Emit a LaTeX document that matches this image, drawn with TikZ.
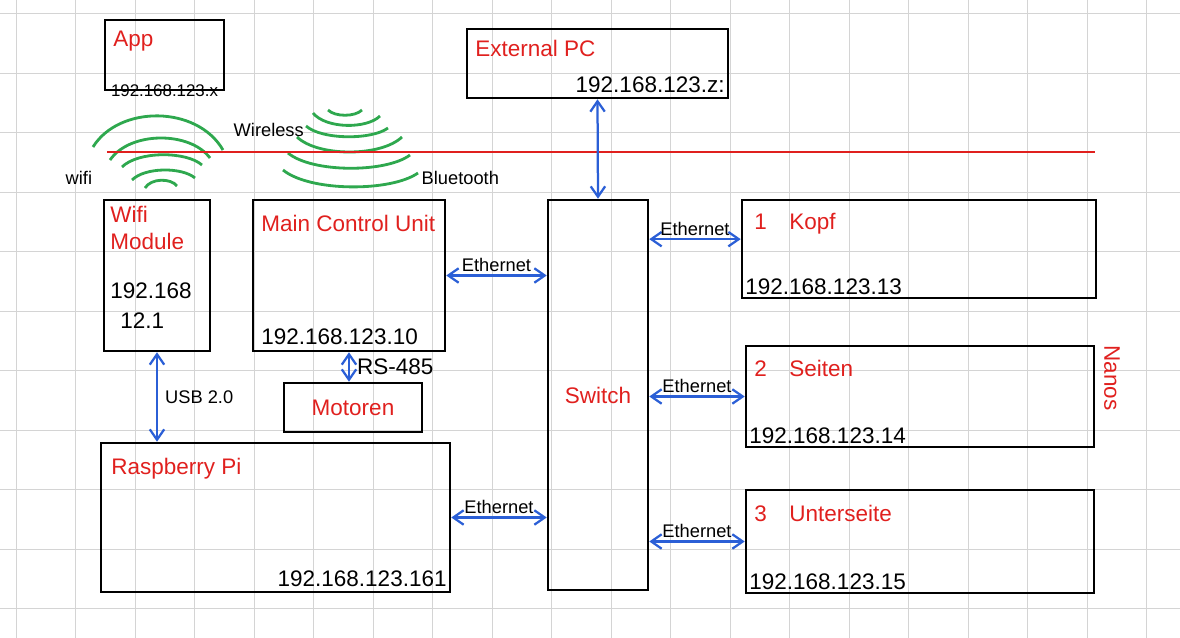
\documentclass[tikz,border=0pt]{standalone}
\usepackage{fontspec}
\setmainfont{Liberation Sans}
\usetikzlibrary{arrows.meta,positioning,fit}
\definecolor{netred}{HTML}{E0201E}
\definecolor{netblue}{HTML}{2B5FD6}
\definecolor{netgreen}{HTML}{2EA84E}
\definecolor{netgrid}{HTML}{D4D4D4}
\tikzset{
  bx/.style={draw=black, line width=1.8pt, inner sep=0pt},
  ttl/.style={text=netred, font=\fontsize{16}{19}\selectfont, inner sep=1pt, align=left},
  ip/.style={text=black, font=\fontsize{16}{19}\selectfont, inner sep=1pt},
  note/.style={text=black, font=\fontsize{13}{15}\selectfont, inner sep=1pt},
  lnk/.style={{Straight Barb[length=2.6mm,width=3.6mm]}-{Straight Barb[length=2.6mm,width=3.6mm]}, line width=1.6pt, color=netblue},
  wave/.style={line width=2pt, color=netgreen},
  air/.style={line width=2pt, color=netred},
  gridln/.style={line width=0.6pt, color=netgrid},
}

\begin{document}
\begin{tikzpicture}[x=0.025cm, y=-0.025cm]
    \useasboundingbox (0,0) rectangle (1180,638);
    % paper grid
    \foreach \i in {0,...,19} { \draw[gridln] ({16+59.5*\i},0) -- ({16+59.5*\i},638); }
    \foreach \j in {0,...,10} { \draw[gridln] (0,{13.5+59.5*\j}) -- (1180,{13.5+59.5*\j}); }

    % boxes
    \node[bx, fit={(105,20) (224,90)}] (app) {};
    \node[bx, fit={(467,29) (728,98)}] (pc) {};
    \node[bx, fit={(104,200) (210,351)}] (wifi) {};
    \node[bx, fit={(253,200) (445,351)}] (mcu) {};
    \node[bx, fit={(284,383) (422,432)}] (mot) {};
    \node[bx, fit={(101,443) (450,592)}] (rpi) {};
    \node[bx, fit={(548,200) (648,590)}] (sw) {};
    \node[bx, fit={(742,200) (1096,298)}] (kopf) {};
    \node[bx, fit={(746,346) (1094,447)}] (seit) {};
    \node[bx, fit={(746,490) (1094,593)}] (unt) {};

    % titles and addresses
    \node[ttl, anchor=west] at ([shift={(8,22)}]app.north west) {App};
    \node[ip, font=\fontsize{12}{14}\selectfont, anchor=south] at ([yshift=-5]app.south) {192.168.123.x};
    \node[ttl, anchor=west] at ([shift={(8,21)}]pc.north west) {External PC};
    \node[ip, anchor=south east] at ([shift={(-3,-5)}]pc.south east) {192.168.123.z:};
    \node[ttl, anchor=north west] at ([shift={(6,6)}]wifi.north west) {Wifi\\Module};
    \node[ip, anchor=west] at ([shift={(6,92)}]wifi.north west) {192.168};
    \node[ip, anchor=west] at ([shift={(16,122)}]wifi.north west) {12.1};
    \node[ttl, anchor=west] at ([shift={(8,25)}]mcu.north west) {Main Control Unit};
    \node[ip, anchor=west] at ([shift={(8,-16)}]mcu.south west) {192.168.123.10};
    \node[ttl] at (mot.center) {Motoren};
    \node[ttl, anchor=west] at ([shift={(10,27)}]rpi.north west) {Raspberry Pi};
    \node[ip, anchor=south east] at ([shift={(-3,-5)}]rpi.south east) {192.168.123.161};
    \node[ttl] at (sw.center) {Switch};
    \node[ttl, anchor=west] at ([shift={(12,25)}]kopf.north west) {1\quad Kopf};
    \node[ip, anchor=west] at ([shift={(3,-13)}]kopf.south west) {192.168.123.13};
    \node[ttl, anchor=west] at ([shift={(8,24)}]seit.north west) {2\quad Seiten};
    \node[ip, anchor=west] at ([shift={(3,-13)}]seit.south west) {192.168.123.14};
    \node[ttl, anchor=west] at ([shift={(8,25)}]unt.north west) {3\quad Unterseite};
    \node[ip, anchor=west] at ([shift={(3,-13)}]unt.south west) {192.168.123.15};
    \node[ttl, rotate=-90] (nano) at (1112,378) {Nanos};

    % radio waves
    \foreach \xa/\ya/\ca/\cb/\cy/\xb/\yb in {93/147/119/197/105/223/150, 110/160/130/190/131/210/158,
      122/167/138/186/151/202/165, 132/180/145/182/167/195/178, 145/188/151/171/178/177/186}
    { \draw[wave] (\xa,\ya) .. controls (\ca,\cy) and (\cb,\cy) .. (\xb,\yb); }
    \foreach \xa/\ya/\ca/\cb/\cy/\xb/\yb in {328/110/335/355/117/362/110, 313/113/326/367/129/380/116,
      306/126/322/372/140/388/128, 297/137/318/381/157/402/137, 288/153/312/386/173/410/155,
      283/170/310/391/192/418/173}
    { \draw[wave] (\xa,\ya) .. controls (\ca,\cy) and (\cb,\cy) .. (\xb,\yb); }
    \draw[air] (107,152) -- (1095,152);
    \node[note, anchor=west] (wl) at (64,178) {wifi};
    \node[note, anchor=west] (wr) at (232,130) {Wireless};
    \node[note, anchor=west] (bt) at (420,178) {Bluetooth};

    % links
    \draw[lnk] (pc.south) -- (sw.north);
    \draw[lnk] (wifi.south) -- node[note, right=4pt]{USB 2.0} (wifi.south |- rpi.north);
    \draw[lnk] (mcu.south) -- node[ip, right=4pt]{RS-485} (mcu.south |- mot.north);
    \draw[lnk] (mcu.east) -- node[note, above=1pt]{Ethernet} (mcu.east -| sw.west);
    \draw[lnk] (rpi.east) -- node[note, above=1pt]{Ethernet} (rpi.east -| sw.west);
    \draw[lnk] ([yshift=7]kopf.west) -- node[note, above=1pt]{Ethernet} ([yshift=7]kopf.west -| sw.east);
    \draw[lnk] (seit.west) -- node[note, above=1pt]{Ethernet} (seit.west -| sw.east);
    \draw[lnk] (unt.west) -- node[note, above=1pt]{Ethernet} (unt.west -| sw.east);
\end{tikzpicture}
\end{document}
